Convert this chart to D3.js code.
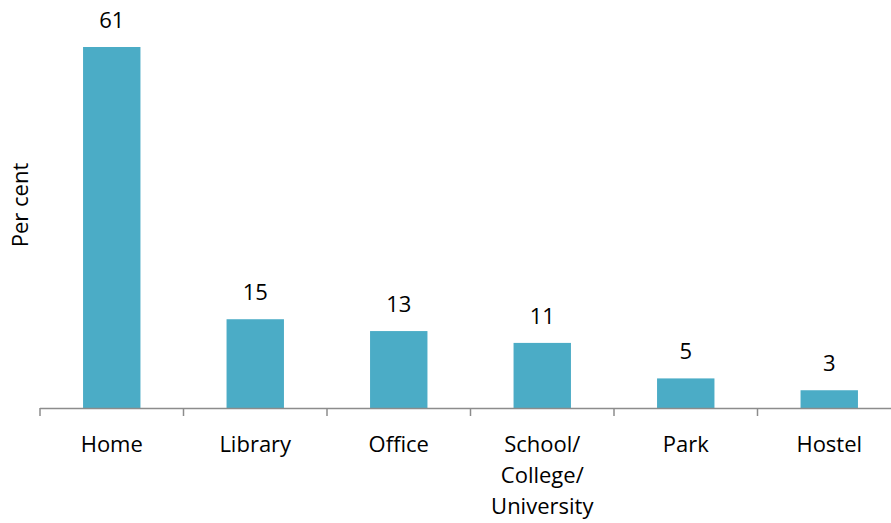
<!DOCTYPE html>
<html>
<head>
<meta charset="utf-8">
<script src="https://cdn.jsdelivr.net/npm/d3@7"></script>
<style>
  body { margin: 0; background: #fff; }
  text { font-family: "Open Sans", sans-serif; fill: #000; }
</style>
</head>
<body>
<svg class="chart" width="891" height="523"></svg>
<script>
// categories, each one split into its label lines
var categories = ["Home", "Library", "Office", "School/College/University", "Park", "Hostel"];
var category_lines = [["Home"], ["Library"], ["Office"], ["School/", "College/", "University"], ["Park"], ["Hostel"]];
// per cent values
var values = [61, 15, 13, 11, 5, 3];

var chart = d3.select(".chart");

var axis_y = 408;
var x = d3.scaleBand()
    .domain(categories)
    .range([40, 901])
    .paddingInner(0.6)
    .paddingOuter(0.3);

var y = d3.scaleLinear()
    .domain([0, 61])
    .range([axis_y, 47]);

// bars
chart.selectAll("rect.bar")
    .data(values)
    .enter().append("rect")
    .attr("class", "bar")
    .attr("x", function(d, i) { return x(categories[i]); })
    .attr("y", function(d) { return y(d); })
    .attr("width", x.bandwidth())
    .attr("height", function(d) { return axis_y - y(d); })
    .attr("fill", "#4bacc6");

// value labels above bars
chart.selectAll("text.value")
    .data(values)
    .enter().append("text")
    .attr("class", "value")
    .attr("x", function(d, i) { return x(categories[i]) + x.bandwidth() / 2; })
    .attr("y", function(d) { return y(d) - 19; })
    .attr("text-anchor", "middle")
    .style("font-size", "22px")
    .text(function(d) { return d; });

// x axis line and ticks between categories
var step = x.step();
var start = 40;
chart.append("line")
    .attr("x1", start).attr("x2", 891)
    .attr("y1", axis_y + 0.5).attr("y2", axis_y + 0.5)
    .attr("stroke", "#8c8c8c")
    .attr("stroke-width", 1.5);

chart.selectAll("line.tick")
    .data(d3.range(categories.length + 1))
    .enter().append("line")
    .attr("class", "tick")
    .attr("x1", function(d) { return start + d * step; })
    .attr("x2", function(d) { return start + d * step; })
    .attr("y1", axis_y)
    .attr("y2", axis_y + 8)
    .attr("stroke", "#8c8c8c")
    .attr("stroke-width", 1.5);

// category labels
var labels = chart.selectAll("text.cat")
    .data(category_lines)
    .enter().append("text")
    .attr("class", "cat")
    .attr("text-anchor", "middle")
    .style("font-size", "22px")
    .attr("transform", function(d, i) {
        return "translate(" + (x(categories[i]) + x.bandwidth() / 2) + ",452)";
    });

labels.selectAll("tspan")
    .data(function(d) { return d; })
    .enter().append("tspan")
    .attr("x", 0)
    .attr("y", function(d, i) { return i * 31; })
    .text(function(d) { return d; });

// y axis title
chart.append("text")
    .attr("transform", "translate(28,205) rotate(-90)")
    .attr("text-anchor", "middle")
    .style("font-size", "22px")
    .text("Per cent");
</script>
</body>
</html>
